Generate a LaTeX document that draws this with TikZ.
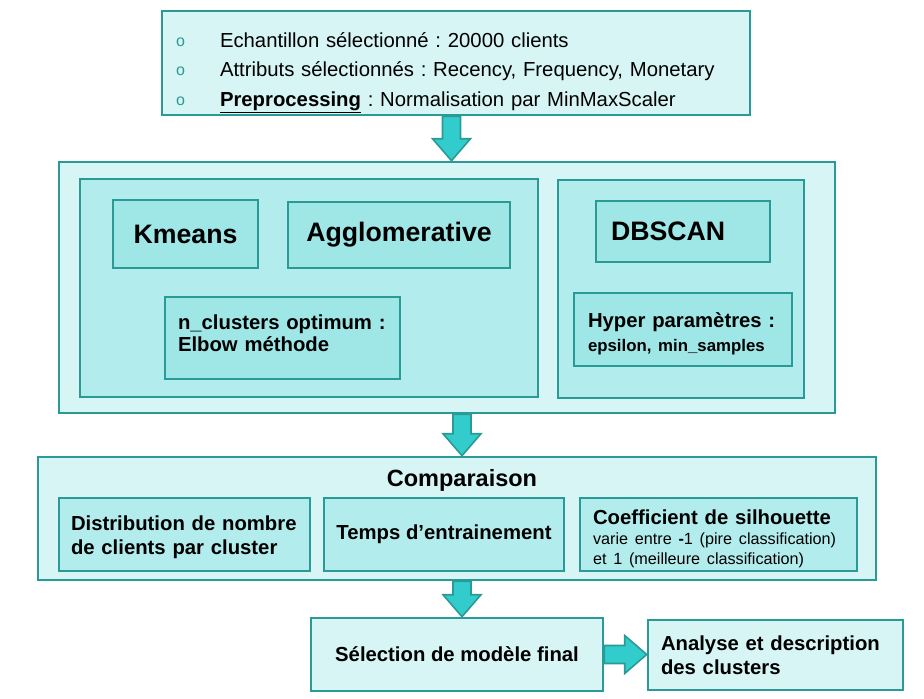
\documentclass[tikz,border=0pt]{standalone}
\usepackage{fontspec}
\setmainfont{Liberation Sans}
\usetikzlibrary{calc}
\definecolor{bord}{HTML}{2A9A96}
\definecolor{pale}{HTML}{D7F5F5}
\definecolor{mid}{HTML}{B3ECEC}
\definecolor{deep}{HTML}{9FE6E6}
\definecolor{arr}{HTML}{33CCCC}
\newcommand{\blt}{\makebox[44pt][l]{\raisebox{1pt}{\fontsize{16}{16}\selectfont\textcolor{bord}{o}}}}
\frenchspacing

\begin{document}
\begin{tikzpicture}[x=1pt,y=-1pt,
  main/.style = {draw=bord, line width=2.6pt, inner sep=0pt},
  big/.style = {font=\fontsize{26.7}{30}\selectfont\bfseries},
  med/.style = {font=\fontsize{20.3}{24}\selectfont\bfseries},
  flow/.style = {draw=bord, fill=arr, line width=1.6pt}]
      \useasboundingbox (0,0) rectangle (924,699);

      % selection des donnees
      \node[main, fill=pale, minimum width=588pt, minimum height=104pt, inner xsep=14pt, text width=560pt, align=left,
        font=\fontsize{20.3}{29.5}\selectfont] at (456, 63) (top){
        \rule{0pt}{34pt}\blt Echantillon sélectionné : 20000 clients\\
        \blt Attributs sélectionnés : Recency, Frequency, Monetary\\
        \blt \textbf{\underline{Preprocessing}} : Normalisation par MinMaxScaler};

      % modeles
      \node[main, fill=pale, minimum width=776pt, minimum height=251pt] at (447, 287.5) (box2){};
      \node[main, fill=mid, minimum width=458pt, minimum height=218pt] at (309, 288) (left){};
      \node[main, fill=mid, minimum width=246pt, minimum height=218pt] at (681, 289) (right){};

      \node[main, fill=deep, big, minimum width=145pt, minimum height=68pt] at (185.5, 234) (km){Kmeans};
      \node[main, fill=deep, big, minimum width=222pt, minimum height=66pt] at (399, 235) (agg){Agglomerative};
      \node[main, fill=deep, font=\fontsize{20.3}{22}\selectfont\bfseries, minimum height=82pt, inner xsep=13pt,
        text width=209pt, align=left] at (282.5, 338) (ncl){n\_clusters optimum :\\ Elbow méthode\rule[-10pt]{0pt}{10pt}};
      \node[main, fill=deep, big, minimum height=61pt, inner xsep=15pt, text width=144pt, align=left]
        at (683, 231.5) (db){DBSCAN};
      \node[main, fill=deep, med, minimum height=73pt, inner xsep=14pt, text width=190pt, align=left]
        at (683, 329.5) (hyp){\rule{0pt}{24pt}Hyper paramètres :\\
        \fontsize{16.8}{22}\selectfont epsilon, min\_samples};

      % comparaison
      \node[main, fill=pale, minimum width=838pt, minimum height=123pt] at (457, 518.5) (comp){};
      \node[font=\fontsize{23.5}{26}\selectfont\bfseries] at (462, 480) (ctitle){Comparaison};
      \node[main, fill=mid, med, minimum height=73pt, inner xsep=12pt, text width=227pt, align=left]
        at (184.5, 534.5) (dist){\rule{0pt}{21pt}Distribution de nombre\\ de clients par cluster};
      \node[main, fill=mid, med, minimum width=240pt, minimum height=73pt] at (444, 534.5) (temps){Temps d’entrainement};
      \node[main, fill=mid, med, minimum height=73pt, inner xsep=13pt, text width=251pt, align=left]
        at (718.5, 534.5) (coef){\rule{0pt}{24pt}Coefficient de silhouette\\[-1pt]
        \fontsize{16.2}{20.5}\selectfont\mdseries\mbox{varie entre \textbf{-}1 (pire classification)}\\[-3.5pt]
        et 1 (meilleure classification)};

      % choix final
      \node[main, fill=pale, med, minimum width=292pt, minimum height=73pt] at (457, 654.5) (sel){Sélection de modèle final};
      \node[main, fill=pale, med, minimum height=70pt, inner xsep=13pt, text width=229pt, align=left]
        at (775.5, 655) (anal){Analyse et description\\ des clusters};

      % fleches
      \coordinate (a1) at ($(top.south)!0.5!(box2.north)$);
      \draw[flow] ($(a1 |- top.south)+(-9,0)$) -- ($(a1 |- box2.north)+(-9,-22)$) -- ($(a1 |- box2.north)+(-19,-22)$)
        -- (a1 |- box2.north) -- ($(a1 |- box2.north)+(19,-22)$) -- ($(a1 |- box2.north)+(9,-22)$)
        -- ($(a1 |- top.south)+(9,0)$) -- cycle;
      \draw[flow] ($(ctitle |- box2.south)+(-9,0)$) -- ($(ctitle |- comp.north)+(-9,-22)$) -- ($(ctitle |- comp.north)+(-19,-22)$)
        -- (ctitle |- comp.north) -- ($(ctitle |- comp.north)+(19,-22)$) -- ($(ctitle |- comp.north)+(9,-22)$)
        -- ($(ctitle |- box2.south)+(9,0)$) -- cycle;
      \draw[flow] ($(ctitle |- comp.south)+(-9,0)$) -- ($(ctitle |- sel.north)+(-9,-22)$) -- ($(ctitle |- sel.north)+(-19,-22)$)
        -- (ctitle |- sel.north) -- ($(ctitle |- sel.north)+(19,-22)$) -- ($(ctitle |- sel.north)+(9,-22)$)
        -- ($(ctitle |- comp.south)+(9,0)$) -- cycle;
      \draw[flow] ($(sel.east)+(0,-9)$) -- ($(sel.east -| anal.west)+(-22,-9)$) -- ($(sel.east -| anal.west)+(-22,-19)$)
        -- (sel.east -| anal.west) -- ($(sel.east -| anal.west)+(-22,19)$) -- ($(sel.east -| anal.west)+(-22,9)$)
        -- ($(sel.east)+(0,9)$) -- cycle;

    \end{tikzpicture}
\end{document}
